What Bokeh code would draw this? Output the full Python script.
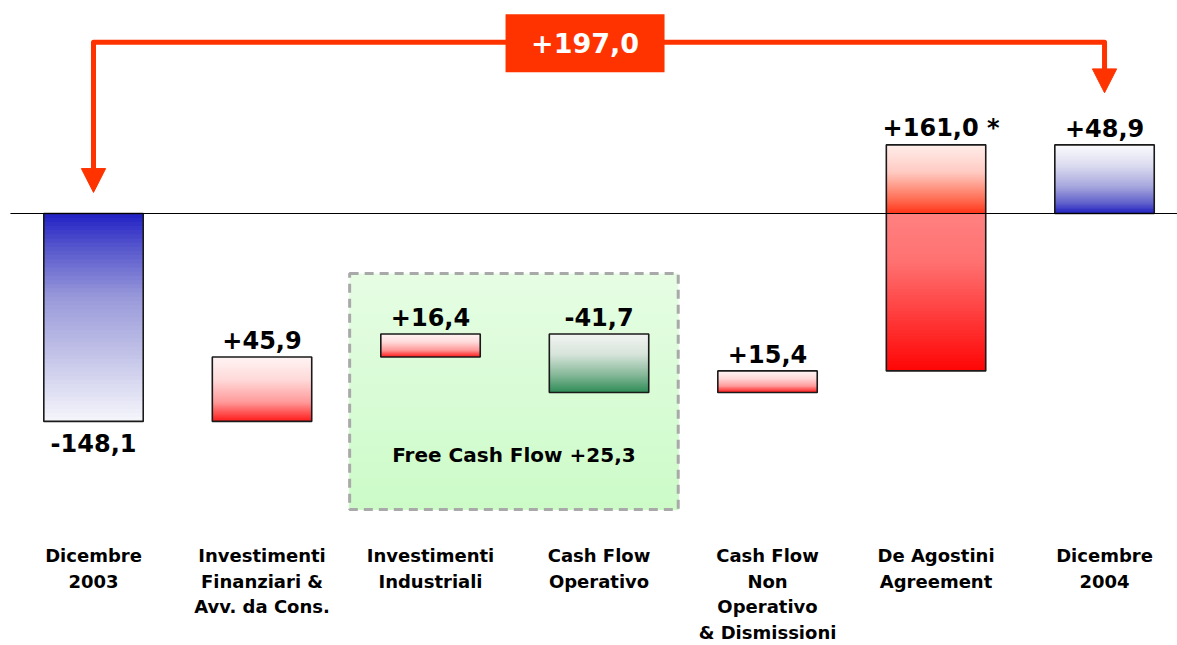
import numpy as np
from bokeh.plotting import figure
from bokeh.models import Range1d
from bokeh.embed import file_html
from bokeh.resources import INLINE
from bokeh.core.properties import value

# ---------------- data ----------------
categories = ["Dicembre\n2003",
              "Investimenti\nFinanziari &\nAvv. da Cons.",
              "Investimenti\nIndustriali",
              "Cash Flow\nOperativo",
              "Cash Flow\nNon\nOperativo\n& Dismissioni",
              "De Agostini\nAgreement",
              "Dicembre\n2004"]
values = [-148.1, 45.9, 16.4, -41.7, 15.4, 161.0, 48.9]
kinds = ["total", "step", "step", "step", "step", "step", "total"]
value_labels = ["-148,1", "+45,9", "+16,4", "-41,7", "+15,4", "+161,0 *", "+48,9"]
total_change_label = "+197,0"
fcf_label = "Free Cash Flow +25,3"

FONT = "DejaVu Sans"
ORANGE = "#ff3300"

# ---------------- gradient schemes ----------------
schemes = {
    "blue_down": [(0.0, "#2020c6"), (0.15, "#5252cc"), (0.4, "#9898da"), (0.7, "#c6c6ea"), (1.0, "#f6f6fc")],
    "blue_up": [(0.0, "#fbfbfe"), (0.3, "#dcdcf0"), (0.6, "#a8a8de"), (0.85, "#6060cc"), (1.0, "#2020c0")],
    "red": [(0.0, "#fff4f4"), (0.35, "#ffdada"), (0.7, "#ff9a9a"), (1.0, "#ff1a1a")],
    "green": [(0.0, "#f2f4f2"), (0.35, "#d6e4da"), (0.7, "#86b898"), (1.0, "#2e8b57")],
    "ago_top": [(0.0, "#ffeeea"), (0.4, "#ffcac2"), (0.8, "#ff6c52"), (1.0, "#ff3418")],
    "ago_bot": [(0.0, "#ff8080"), (0.3, "#ff7272"), (1.0, "#ff0505")],
    "fcf": [(0.0, "#e6fde4"), (1.0, "#ccfbc8")],
}
bar_schemes = ["blue_down", "red", "red", "green", "red", "ago", "blue_up"]


def hex2rgb(h):
    h = h.lstrip("#")
    return np.array([int(h[i:i + 2], 16) for i in (0, 2, 4)], dtype=float)


def color_at(stops, t):
    for (t0, c0), (t1, c1) in zip(stops[:-1], stops[1:]):
        if t <= t1:
            f = 0 if t1 == t0 else (t - t0) / (t1 - t0)
            c = hex2rgb(c0) * (1 - f) + hex2rgb(c1) * f
            return "#%02x%02x%02x" % tuple(int(round(v)) for v in c)
    return stops[-1][1]


def gradient_slices(x0, x1, ytop, ybot, stops, n=50):
    # each slice runs from its own top down to the segment bottom; later
    # slices overdraw earlier ones, so there are no anti-aliasing seams
    L, R, T, B, C = [], [], [], [], []
    edges = np.linspace(ytop, ybot, n + 1)
    for i in range(n):
        L.append(x0); R.append(x1)
        T.append(edges[i]); B.append(ybot)
        C.append(color_at(stops, (i + 0.5) / n))
    return L, R, T, B, C


# ---------------- waterfall geometry ----------------
tops, bots = [], []
cum = 0.0
for v, k in zip(values, kinds):
    if k == "total":
        a, b = 0.0, v
        cum = v
    else:
        a, b = cum, cum + v
        cum = cum + v
    tops.append(max(a, b))
    bots.append(min(a, b))

xs = list(range(len(categories)))
HALF_W = 0.295

p = figure(width=1177, height=645, output_backend="svg", toolbar_location=None,
           x_range=Range1d(-0.552, 6.433), y_range=Range1d(-307.7, 151.7),
           min_border=0, min_border_left=0, min_border_right=0,
           min_border_top=0, min_border_bottom=0)
p.xaxis.visible = False
p.yaxis.visible = False
p.grid.visible = False
p.outline_line_color = None
p.background_fill_color = "white"
p.border_fill_color = "white"

# Free cash flow box (spans bars 2 and 3)
fx0, fx1 = 1.52, 3.47
fy0, fy1 = -42.7, -210.8
L, R, T, B, C = gradient_slices(fx0, fx1, fy0, fy1, schemes["fcf"], n=30)
p.quad(left=L, right=R, top=T, bottom=B, fill_color=C, line_color=None)
p.quad(left=[fx0], right=[fx1], top=[fy0], bottom=[fy1], fill_color=None,
       line_color="#a9a9a9", line_width=3, line_dash="9 6")
p.text(x=[(fx0 + fx1) / 2], y=[-172.0], text=[fcf_label],
       text_font=value(FONT), text_font_style="bold", text_font_size="20px",
       text_align="center", text_baseline="middle", text_color="black")

# bars with gradient fills
for i, x in enumerate(xs):
    x0, x1 = x - HALF_W, x + HALF_W
    sch = bar_schemes[i]
    if sch == "ago":
        segs = [(tops[i], 0.0, schemes["ago_top"]), (0.0, bots[i], schemes["ago_bot"])]
    else:
        segs = [(tops[i], bots[i], schemes[sch])]
    for (yt, yb, stops) in segs:
        L, R, T, B, C = gradient_slices(x0, x1, yt, yb, stops)
        p.quad(left=L, right=R, top=T, bottom=B, fill_color=C, line_color=None)

p.quad(left=[x - HALF_W for x in xs], right=[x + HALF_W for x in xs],
       top=tops, bottom=bots, fill_color=None, line_color="#1a1a1a", line_width=1.6)

# zero line
p.segment(x0=[-0.493], y0=[0], x1=[6.433], y1=[0], line_color="black", line_width=1.2)

# value labels
for i, x in enumerate(xs):
    if kinds[i] == "total" and values[i] < 0:
        p.text(x=[x], y=[bots[i]], text=[value_labels[i]], y_offset=22,
               text_font=value(FONT), text_font_style="bold", text_font_size="24px",
               text_align="center", text_baseline="alphabetic", text_color="black")
    else:
        p.text(x=[x + (0.03 if "*" in value_labels[i] else 0)], y=[tops[i]], text=[value_labels[i]], y_offset=-17,
               text_font=value(FONT), text_font_style="bold", text_font_size="24px",
               text_align="center", text_baseline="alphabetic", text_color="black")

# category labels
p.text(x=xs, y=[-236] * len(xs), text=categories,
       text_font=value(FONT), text_font_style="bold", text_font_size="18px",
       text_align="center", text_baseline="top", text_color="black",
       text_line_height=1.23)

# total change arrow
ARROW_Y = 122.0
left_tip = 15.0
right_tip = 86.0
HEAD_W = 0.072
HEAD_H = 17.0
p.line(x=[xs[0], xs[0], xs[-1], xs[-1]],
       y=[left_tip + HEAD_H - 1, ARROW_Y, ARROW_Y, right_tip + HEAD_H - 1],
       line_color=ORANGE, line_width=5, line_join="round")
p.patches(xs=[[xs[0] - HEAD_W, xs[0] + HEAD_W, xs[0]], [xs[-1] - HEAD_W, xs[-1] + HEAD_W, xs[-1]]],
          ys=[[left_tip + HEAD_H, left_tip + HEAD_H, left_tip], [right_tip + HEAD_H, right_tip + HEAD_H, right_tip]],
          fill_color=ORANGE, line_color=ORANGE)
p.rect(x=[2.917], y=[ARROW_Y - 0.7], width=159, height=58, width_units="screen", height_units="screen",
       fill_color=ORANGE, line_color=None)
p.text(x=[2.917], y=[ARROW_Y - 0.7], text=[total_change_label],
       text_font=value(FONT), text_font_style="bold", text_font_size="27px",
       text_align="center", text_baseline="middle", text_color="white")

open("out.html", "w").write(file_html(p, INLINE))
